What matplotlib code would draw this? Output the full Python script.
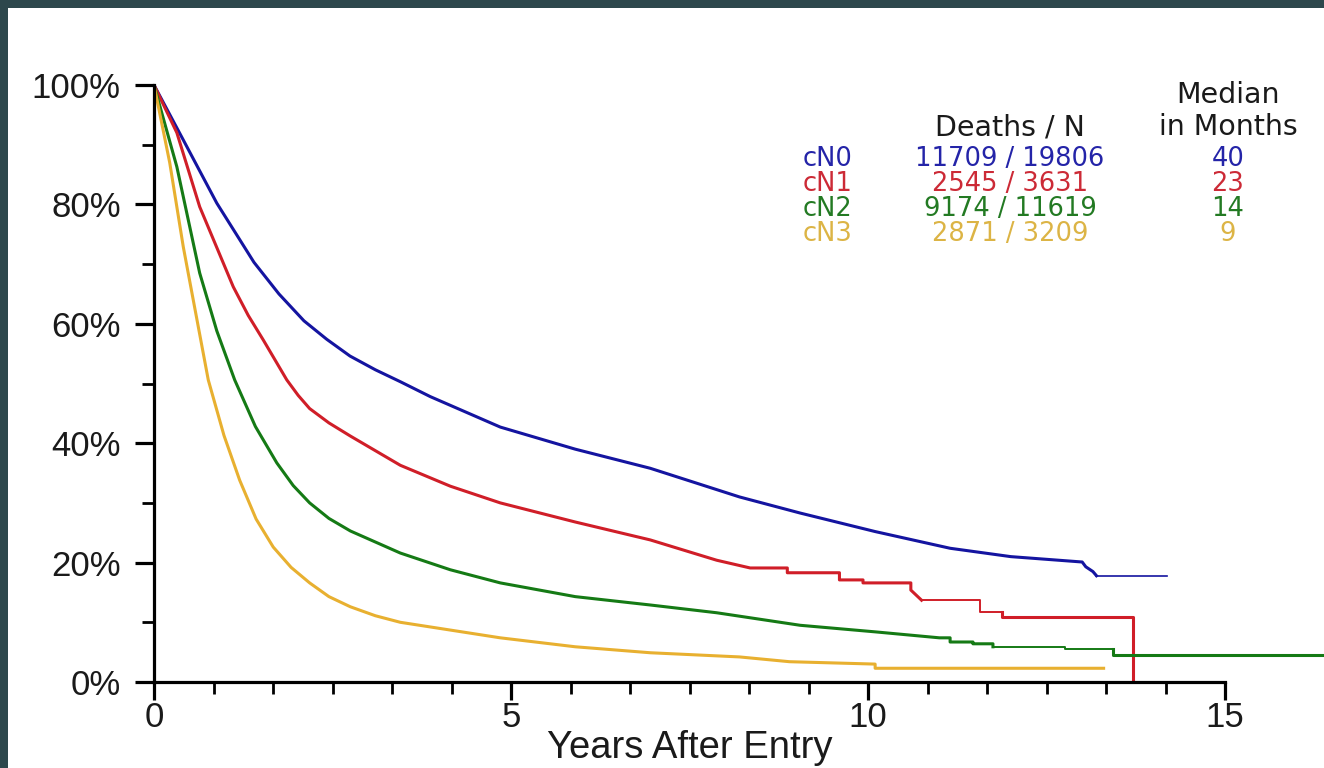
import matplotlib
matplotlib.use("Agg")
import matplotlib.pyplot as plt
from matplotlib.patches import Rectangle

plt.rcParams['font.family'] = ['Liberation Sans', 'DejaVu Sans']

# survival curves: years after entry, percent surviving
cn0_t = [0, 0.41, 0.88, 1.4, 1.75, 2.1, 2.42, 2.745, 3.1, 3.45, 3.87, 4.85, 5.9, 6.95, 8.2, 9.05, 10.1, 11.15, 12.0, 13.0, 13.05, 13.15, 13.2]
cn0_p = [100, 90.8, 80.2, 70.3, 65.0, 60.5, 57.4, 54.6, 52.3, 50.3, 47.8, 42.7, 39.0, 35.8, 31.0, 28.3, 25.2, 22.4, 21.0, 20.1, 19.3, 18.5, 17.8]
cn0_tail_t = [13.2, 14.19]
cn0_tail_p = [17.8, 17.8]

cn1_t = [0, 0.32, 0.64, 1.11, 1.32, 1.53, 1.86, 2.02, 2.18, 2.45, 2.75, 3.45, 4.15, 4.85, 5.9, 6.95, 7.88, 8.35, 8.87, 8.87, 9.6, 9.6, 9.93, 9.93, 10.6, 10.6, 10.75]
cn1_p = [100, 92.0, 79.6, 66.2, 61.4, 57.3, 50.6, 48.0, 45.8, 43.4, 41.2, 36.3, 32.8, 30.0, 26.8, 23.8, 20.4, 19.1, 19.1, 18.3, 18.3, 17.1, 17.1, 16.6, 16.6, 15.4, 13.7]
cn1_mid_t = [10.75, 11.57, 11.57, 11.87]
cn1_mid_p = [13.7, 13.7, 11.8, 11.8]
cn1_tail_t = [11.87, 11.87, 13.71, 13.71]
cn1_tail_p = [11.8, 10.9, 10.9, 0]

cn2_t = [0, 0.32, 0.64, 0.88, 1.13, 1.42, 1.72, 1.95, 2.18, 2.45, 2.75, 3.45, 4.15, 4.85, 5.9, 6.95, 7.88, 9.05, 10.1, 11.0, 11.15, 11.15, 11.47, 11.47, 11.75, 11.75]
cn2_p = [100, 86.3, 68.5, 58.8, 50.6, 42.8, 36.7, 32.9, 30.0, 27.4, 25.3, 21.6, 18.8, 16.6, 14.3, 12.9, 11.6, 9.5, 8.4, 7.4, 7.4, 6.7, 6.7, 6.4, 6.4, 5.9]
cn2_mid_t = [11.75, 12.76, 12.76, 13.43]
cn2_mid_p = [5.9, 5.9, 5.5, 5.5]
cn2_tail_t = [13.43, 13.43, 16.39]
cn2_tail_p = [5.5, 4.5, 4.5]

cn3_t = [0, 0.22, 0.41, 0.76, 0.98, 1.2, 1.43, 1.67, 1.92, 2.18, 2.45, 2.75, 3.1, 3.45, 4.85, 5.9, 6.95, 8.2, 8.9, 10.1, 10.1, 13.3]
cn3_p = [100, 87.0, 72.9, 50.6, 41.3, 33.8, 27.3, 22.6, 19.2, 16.6, 14.3, 12.6, 11.1, 10.0, 7.4, 5.9, 4.9, 4.2, 3.4, 3.0, 2.3, 2.3]

groups = ["cN0", "cN1", "cN2", "cN3"]
deaths_n = ["11709 / 19806", "2545 / 3631", "9174 / 11619", "2871 / 3209"]
medians = ["40", "23", "14", "9"]

line_colors = ["#1414a0", "#d01e28", "#157a15", "#e8b030"]
text_colors = ["#2424a8", "#cc2a36", "#237a23", "#dcb445"]

W, H = 1324, 768
fig = plt.figure(figsize=(W / 100, H / 100), dpi=100, facecolor="#2d474c")
fig.patches.append(Rectangle((8 / W, 0), 1 - 8 / W, 1 - 8 / H, transform=fig.transFigure,
                             facecolor="white", edgecolor="none", zorder=-5))

ax = fig.add_axes([154 / W, 1 - 682 / H, (1225 - 154) / W, (682 - 85) / H])
ax.set_facecolor("none")
ax.set_zorder(2)

lw = 2.2
ax.plot(cn0_t, cn0_p, color=line_colors[0], lw=lw)
ax.plot(cn0_tail_t, cn0_tail_p, color=line_colors[0], lw=1.2)
ax.plot(cn1_t, cn1_p, color=line_colors[1], lw=lw)
ax.plot(cn1_mid_t, cn1_mid_p, color=line_colors[1], lw=1.4)
ax.plot(cn1_tail_t, cn1_tail_p, color=line_colors[1], lw=lw)
ax.plot(cn2_t, cn2_p, color=line_colors[2], lw=lw)
ax.plot(cn2_mid_t, cn2_mid_p, color=line_colors[2], lw=1.4)
ax.plot(cn2_tail_t, cn2_tail_p, color=line_colors[2], lw=lw, clip_on=False)
ax.plot(cn3_t, cn3_p, color=line_colors[3], lw=lw)

ax.set_xlim(0, 15)
ax.set_ylim(0, 100)
for s in ["top", "right"]:
    ax.spines[s].set_visible(False)
for s in ["left", "bottom"]:
    ax.spines[s].set_linewidth(2.3)
    ax.spines[s].set_color("black")

ax.set_xticks([0, 5, 10, 15])
ax.set_xticks([i * 5 / 6 for i in range(1, 18) if i % 6 != 0], minor=True)
ax.set_yticks(range(0, 101, 20))
ax.set_yticklabels([f"{v}%" for v in range(0, 101, 20)])
ax.set_yticks(range(10, 100, 20), minor=True)

ax.tick_params(axis="both", which="major", direction="out", width=2.3, colors="black",
               labelsize=25, labelcolor="#1a1a1a")
ax.tick_params(axis="x", which="major", length=13, pad=1)
ax.tick_params(axis="y", which="major", length=14, pad=10)
ax.tick_params(axis="both", which="minor", direction="out", width=2, length=8.5)

ax.set_xlabel("Years After Entry", fontsize=27.5, color="#1a1a1a", labelpad=-3)


def px(x, y):
    return x / W, 1 - y / H


# the table font in the picture is wide and short; DejaVu matches that better
tfont = ['DejaVu Sans']
hs, fs = 20.5, 18.5
fig.text(*px(1228, 95), "Median", fontsize=hs, family=tfont, ha="center", va="center", color="#1a1a1a")
fig.text(*px(1228, 127), "in Months", fontsize=hs, family=tfont, ha="center", va="center", color="#1a1a1a")
fig.text(*px(1010, 127), "Deaths / N", fontsize=hs, family=tfont, ha="center", va="center", color="#1a1a1a")
rows_y = [159, 184, 209, 234]
for g, d, m, c, y in zip(groups, deaths_n, medians, text_colors, rows_y):
    fig.text(*px(828, y), g, fontsize=fs, family=tfont, ha="center", va="center", color=c)
    fig.text(*px(1010, y), d, fontsize=fs, family=tfont, ha="center", va="center", color=c)
    fig.text(*px(1228, y), m, fontsize=fs, family=tfont, ha="center", va="center", color=c)

fig.savefig("out.png", dpi=100, facecolor=fig.get_facecolor())
